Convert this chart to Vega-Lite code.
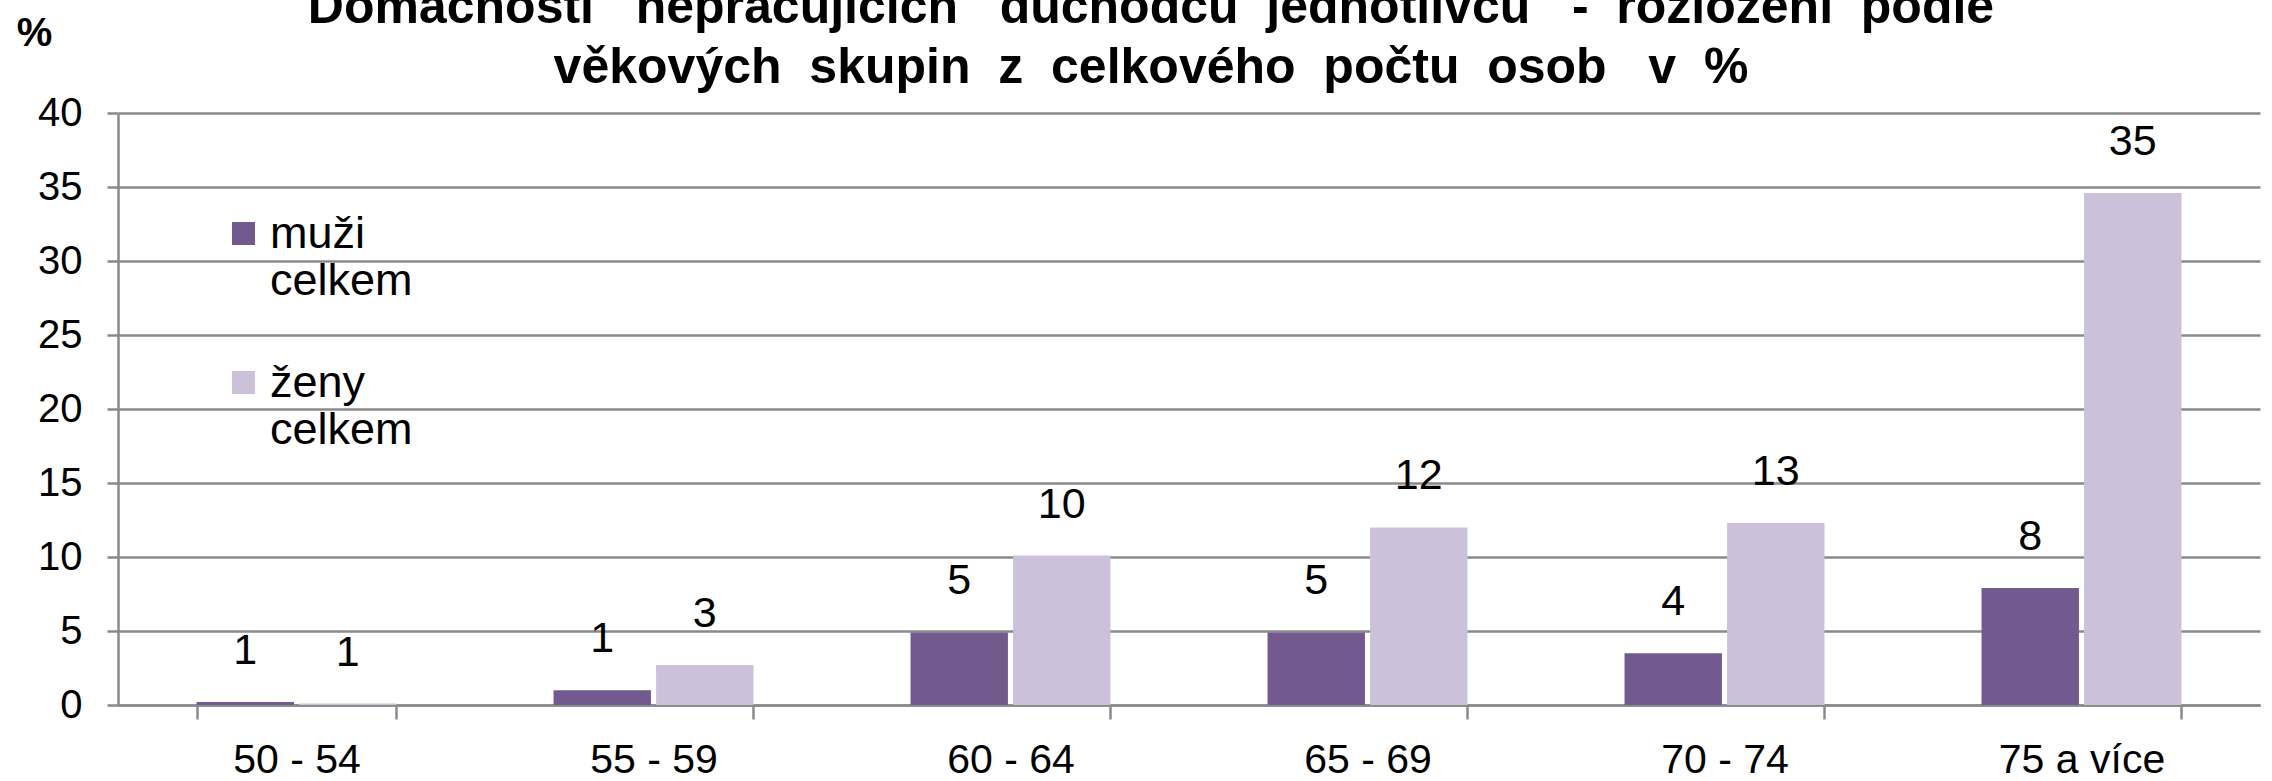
{
  "$schema": "https://vega.github.io/schema/vega-lite/v6.json",
  "autosize": {"type": "none"},
  "width": 2142,
  "height": 592,
  "padding": {"left": 118, "top": 113, "right": 12, "bottom": 76},
  "background": "#ffffff",
  "config": {
    "font": "Liberation Sans",
    "view": {"stroke": null},
    "axis": {"labelFont": "Liberation Sans", "labelColor": "#000000", "titleFont": "Liberation Sans"}
  },
  "title": {
    "text": ["Domácnosti \u00a0\u00a0nepracujících \u00a0\u00a0důchodců \u00a0jednotlivců \u00a0\u00a0- \u00a0rozložení \u00a0podle", "věkových \u00a0skupin \u00a0z \u00a0celkového \u00a0počtu \u00a0osob \u00a0\u00a0v \u00a0%"],
    "font": "Liberation Sans",
    "fontSize": 50,
    "fontWeight": "bold",
    "color": "#000000",
    "lineHeight": 60,
    "anchor": "middle",
    "dx": -38,
    "offset": -80
  },
  "data": {
    "values": [
      {"vek": "50 - 54", "skupina": "muži celkem", "hodnota": 0.2, "stitek": "1"},
      {"vek": "50 - 54", "skupina": "ženy celkem", "hodnota": 0.1, "stitek": "1"},
      {"vek": "55 - 59", "skupina": "muži celkem", "hodnota": 1.0, "stitek": "1"},
      {"vek": "55 - 59", "skupina": "ženy celkem", "hodnota": 2.7, "stitek": "3"},
      {"vek": "60 - 64", "skupina": "muži celkem", "hodnota": 4.9, "stitek": "5"},
      {"vek": "60 - 64", "skupina": "ženy celkem", "hodnota": 10.1, "stitek": "10"},
      {"vek": "65 - 69", "skupina": "muži celkem", "hodnota": 4.9, "stitek": "5"},
      {"vek": "65 - 69", "skupina": "ženy celkem", "hodnota": 12.0, "stitek": "12"},
      {"vek": "70 - 74", "skupina": "muži celkem", "hodnota": 3.5, "stitek": "4"},
      {"vek": "70 - 74", "skupina": "ženy celkem", "hodnota": 12.3, "stitek": "13"},
      {"vek": "75 a více", "skupina": "muži celkem", "hodnota": 7.9, "stitek": "8"},
      {"vek": "75 a více", "skupina": "ženy celkem", "hodnota": 34.6, "stitek": "35"}
    ]
  },
  "encoding": {
    "x": {
      "field": "vek",
      "type": "nominal",
      "sort": null,
      "scale": {"paddingInner": 0.44, "paddingOuter": 0.22},
      "axis": {
        "title": null,
        "labelAngle": 0,
        "labelFontSize": 41,
        "labelPadding": 21,
        "tickBand": "extent",
        "tickSize": 14,
        "tickWidth": 2.5,
        "tickColor": "#8a8a8a",
        "domainColor": "#8a8a8a",
        "domainWidth": 2.5,
        "grid": false
      }
    },
    "xOffset": {
      "field": "skupina",
      "type": "nominal",
      "scale": {"paddingInner": 0.05, "paddingOuter": 0}
    },
    "y": {
      "field": "hodnota",
      "type": "quantitative",
      "scale": {"domain": [0, 40], "nice": false},
      "axis": {
        "values": [0, 5, 10, 15, 20, 25, 30, 35, 40],
        "title": "%",
        "titleAngle": 0,
        "titleFontSize": 40,
        "titleFontWeight": "bold",
        "titleAlign": "center",
        "titleBaseline": "alphabetic",
        "titleX": -84,
        "titleY": -68,
        "labelFontSize": 40,
        "labelPadding": 25,
        "tickSize": 11,
        "tickWidth": 2.5,
        "tickColor": "#8a8a8a",
        "domainColor": "#8a8a8a",
        "domainWidth": 2.5,
        "grid": true,
        "gridColor": "#8a8a8a",
        "gridWidth": 2.5
      }
    }
  },
  "layer": [
    {
      "mark": {"type": "bar"},
      "encoding": {
        "color": {
          "field": "skupina",
          "type": "nominal",
          "scale": {"domain": ["muži celkem", "ženy celkem"], "range": ["#725a8e", "#cbc1db"]},
          "legend": {
            "title": null,
            "orient": "none",
            "legendX": 103,
            "legendY": 98,
            "padding": 0,
            "symbolType": "square",
            "symbolSize": 529,
            "symbolStrokeWidth": 0,
            "labelFontSize": 45,
            "labelColor": "#000000",
            "labelFont": "Liberation Sans",
            "labelExpr": "split(datum.label, ' ')",
            "labelLineHeight": 48,
            "labelOffset": 4,
            "labelBaseline": "middle",
            "rowPadding": 56,
            "labelLimit": 0
          }
        }
      }
    },
    {
      "mark": {"type": "text", "baseline": "alphabetic", "dy": -38, "fontSize": 43, "font": "Liberation Sans", "color": "#000000"},
      "encoding": {
        "text": {"field": "stitek", "type": "nominal"}
      }
    }
  ]
}
